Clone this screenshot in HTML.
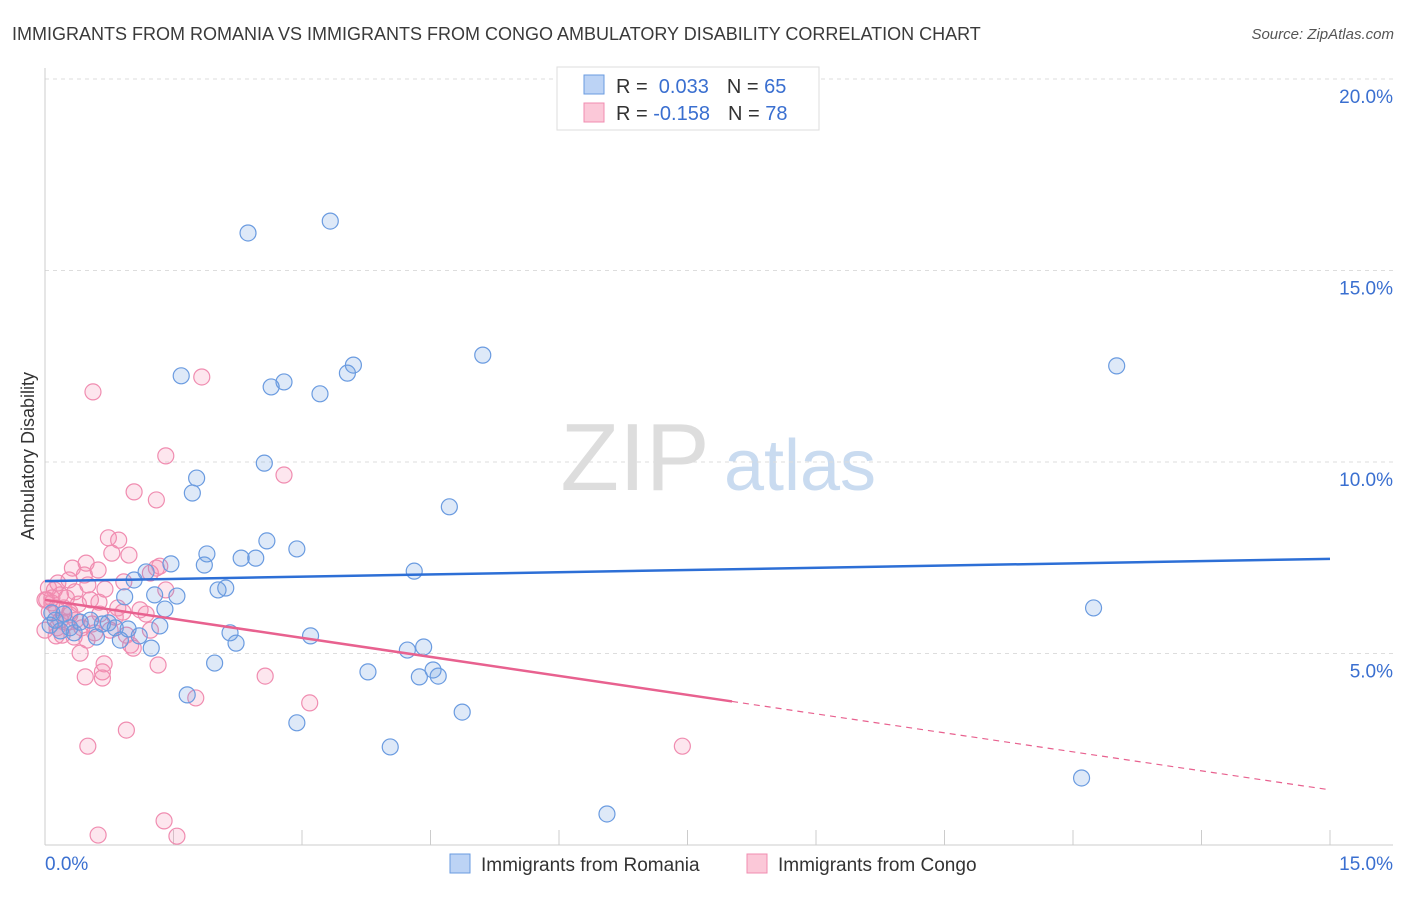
<!DOCTYPE html>
<html><head><meta charset="utf-8"><style>
body{margin:0;background:#fff;font-family:"Liberation Sans",sans-serif}
svg text{font-family:"Liberation Sans",sans-serif}
</style></head><body>
<svg id="chart" width="1406" height="892" viewBox="0 0 1406 892">
<text x="12" y="40" font-size="18" fill="#3a3a3a">IMMIGRANTS FROM ROMANIA VS IMMIGRANTS FROM CONGO AMBULATORY DISABILITY CORRELATION CHART</text>
<text x="1394" y="39" font-size="15" fill="#555" text-anchor="end" font-style="italic">Source: ZipAtlas.com</text>
<text transform="translate(34,456) rotate(-90)" font-size="18" fill="#333" text-anchor="middle">Ambulatory Disability</text>
<g>
<text x="635" y="490" font-size="96" fill="#ddd" text-anchor="middle" font-family="Liberation Serif">ZIP</text>
<text x="800" y="490" font-size="72" fill="#c9dbf0" text-anchor="middle">atlas</text></g>
<g id="grid"></g><g id="axes"></g><g id="pts"></g><g id="trends"></g>
<g>
<rect x="557" y="67" width="262" height="63" fill="#fff" stroke="#ddd"/>
<rect x="584" y="75" width="20" height="19" fill="#bcd3f5" stroke="#6a9be0"/>
<rect x="584" y="103" width="20" height="19" fill="#fbc8d8" stroke="#f08cb0"/>
<text x="616" y="93" font-size="20" fill="#333">R = <tspan fill="#3a6fd0">&#160;0.033</tspan><tspan dx="18" fill="#333">N = </tspan><tspan fill="#3a6fd0">65</tspan></text>
<text x="616" y="120" font-size="20" fill="#333">R = <tspan fill="#3a6fd0">-0.158</tspan><tspan dx="18" fill="#333">N = </tspan><tspan fill="#3a6fd0">78</tspan></text>
</g>
<g>
<rect x="450" y="854" width="20" height="19" fill="#bcd3f5" stroke="#6a9be0"/>
<text x="481" y="871" font-size="19" fill="#333">Immigrants from Romania</text>
<rect x="747" y="854" width="20" height="19" fill="#fbc8d8" stroke="#f08cb0"/>
<text x="778" y="871" font-size="19" fill="#333">Immigrants from Congo</text>
</g>
</svg>
<script>
const yTicks=[5,10,15,20];
const yTickLabels=["5.0%","10.0%","15.0%","20.0%"];
const xTicks=[0,1.5,3,4.5,6,7.5,9,10.5,12,13.5,15];
const romaniaX=[2.37,3.33,1.59,2.64,2.79,3.21,3.53,3.60,5.11,12.51,2.56,1.77,1.72,4.72,2.59,2.94,1.89,2.29,2.46,1.47,1.86,1.18,1.04,4.31,2.02,2.11,1.28,0.93,1.54,1.40,12.24,1.34,2.16,2.23,3.10,1.24,1.10,0.88,0.82,0.67,0.60,0.29,0.18,0.12,0.06,0.41,0.53,0.74,0.97,1.98,3.77,4.23,4.42,4.37,4.53,4.59,1.66,4.87,2.94,4.03,12.10,6.56,0.34,0.22,0.08];
const romaniaY=[15.98,16.29,12.25,11.96,12.09,11.78,12.32,12.53,12.79,12.51,9.97,9.58,9.19,8.83,7.94,7.73,7.60,7.49,7.49,7.34,7.31,7.13,6.92,7.15,6.66,6.71,6.53,6.48,6.50,6.16,6.19,5.72,5.54,5.27,5.46,5.14,5.46,5.35,5.67,5.77,5.43,5.67,5.59,5.87,5.74,5.82,5.87,5.80,5.64,4.75,4.52,5.09,5.17,4.39,4.57,4.41,3.92,3.47,3.19,2.56,1.75,0.81,5.54,6.03,6.06];
const congoX=[0.56,1.83,1.41,1.04,1.30,2.79,0.74,0.86,0.78,0.98,1.30,1.34,1.23,0.48,0.62,0.32,0.46,0.28,0.50,0.92,0.70,0.35,0.11,0.04,0.18,0.25,0.08,0.02,0.13,0.22,0.39,0.63,0.53,0.85,0.91,1.18,0.64,0.29,0.18,0.43,0.76,0.95,0.05,0.14,0.20,0.34,1.00,1.03,0.49,0.41,0.69,1.32,0.67,0.67,0.47,1.76,2.57,3.09,0.95,0.50,7.44,1.39,0.62,1.54,0.08,0.15,0.25,0.55,0.00,0.82,0.29,0.36,0.58,1.11,1.23,1.41,0.13,0.00];
const congoY=[11.83,12.22,10.16,9.22,9.01,9.66,8.02,7.96,7.62,7.57,7.23,7.28,7.10,7.36,7.18,7.23,7.05,6.92,6.79,6.87,6.68,6.61,6.66,6.71,6.53,6.45,6.32,6.40,6.19,6.19,6.29,6.34,6.40,6.19,6.08,6.03,6.03,6.01,5.87,5.67,5.61,5.48,6.08,5.67,5.48,5.43,5.22,5.14,5.35,5.01,4.73,4.70,4.52,4.36,4.39,3.84,4.41,3.71,3.00,2.58,2.58,0.63,0.26,0.23,6.45,6.84,5.82,5.77,6.40,5.95,6.08,5.87,5.54,6.14,5.61,6.66,5.46,5.61];
const romaniaTrend=[6.89,7.47];
const congoTrend=[6.40,1.44];
const congoSolidEnd=8.02;
const NS="http://www.w3.org/2000/svg";
const sx=v=>45+v/15*1285;
const sy=v=>845-v/5*191.5;
function mk(tag,attrs,parent){const e=document.createElementNS(NS,tag);for(const k in attrs)e.setAttribute(k,attrs[k]);document.getElementById(parent).appendChild(e);return e;}
yTicks.forEach((t,i)=>{
 const l=mk('line',{x1:45,x2:1393,y1:sy(t),y2:sy(t),stroke:'#ddd','stroke-dasharray':'4,4'},'grid');
 
 
 const tx=mk('text',{x:1393,y:sy(t)+24,'font-size':19,fill:'#3a6fd0','text-anchor':'end'},'grid');
 tx.textContent=yTickLabels[i];
 
 
});
const ax=mk('line',{x1:45,x2:45,y1:68,y2:845,stroke:'#ccc'},'axes');


const bx=mk('line',{x1:45,x2:1393,y1:845,y2:845,stroke:'#ccc'},'axes');


xTicks.forEach(t=>{const l=mk('line',{x1:sx(t),x2:sx(t),y1:830,y2:845,stroke:'#ccc'},'axes');
 
 });
const xl0=mk('text',{x:45,y:870,'font-size':19,fill:'#3a6fd0'},'axes');xl0.textContent='0.0%';


const xl1=mk('text',{x:1393,y:870,'font-size':19,fill:'#3a6fd0','text-anchor':'end'},'axes');xl1.textContent='15.0%';


function pts(X,Y,fill,stroke,name){X.forEach((x,i)=>{const c=mk('circle',{cx:sx(x),cy:sy(Y[i]),r:8,fill:fill,stroke:stroke,'stroke-width':1.2},'pts');
 
 });}
pts(congoX,congoY,'rgba(244,140,176,0.22)','#f08cb0','congo-point');
pts(romaniaX,romaniaY,'rgba(106,155,224,0.22)','#6a9be0','romania-point');
const bt=mk('line',{x1:sx(0),y1:sy(romaniaTrend[0]),x2:sx(15),y2:sy(romaniaTrend[1]),stroke:'#2d6fd6','stroke-width':2.5},'trends');


const cy=x=>congoTrend[0]+(congoTrend[1]-congoTrend[0])*x/15;
const pt=mk('line',{x1:sx(0),y1:sy(cy(0)),x2:sx(congoSolidEnd),y2:sy(cy(congoSolidEnd)),stroke:'#e8618f','stroke-width':2.5},'trends');


const pd=mk('line',{x1:sx(congoSolidEnd),y1:sy(cy(congoSolidEnd)),x2:sx(15),y2:sy(cy(15)),stroke:'#e8618f','stroke-width':1.2,'stroke-dasharray':'6,5'},'trends');


</script>
</body></html>
